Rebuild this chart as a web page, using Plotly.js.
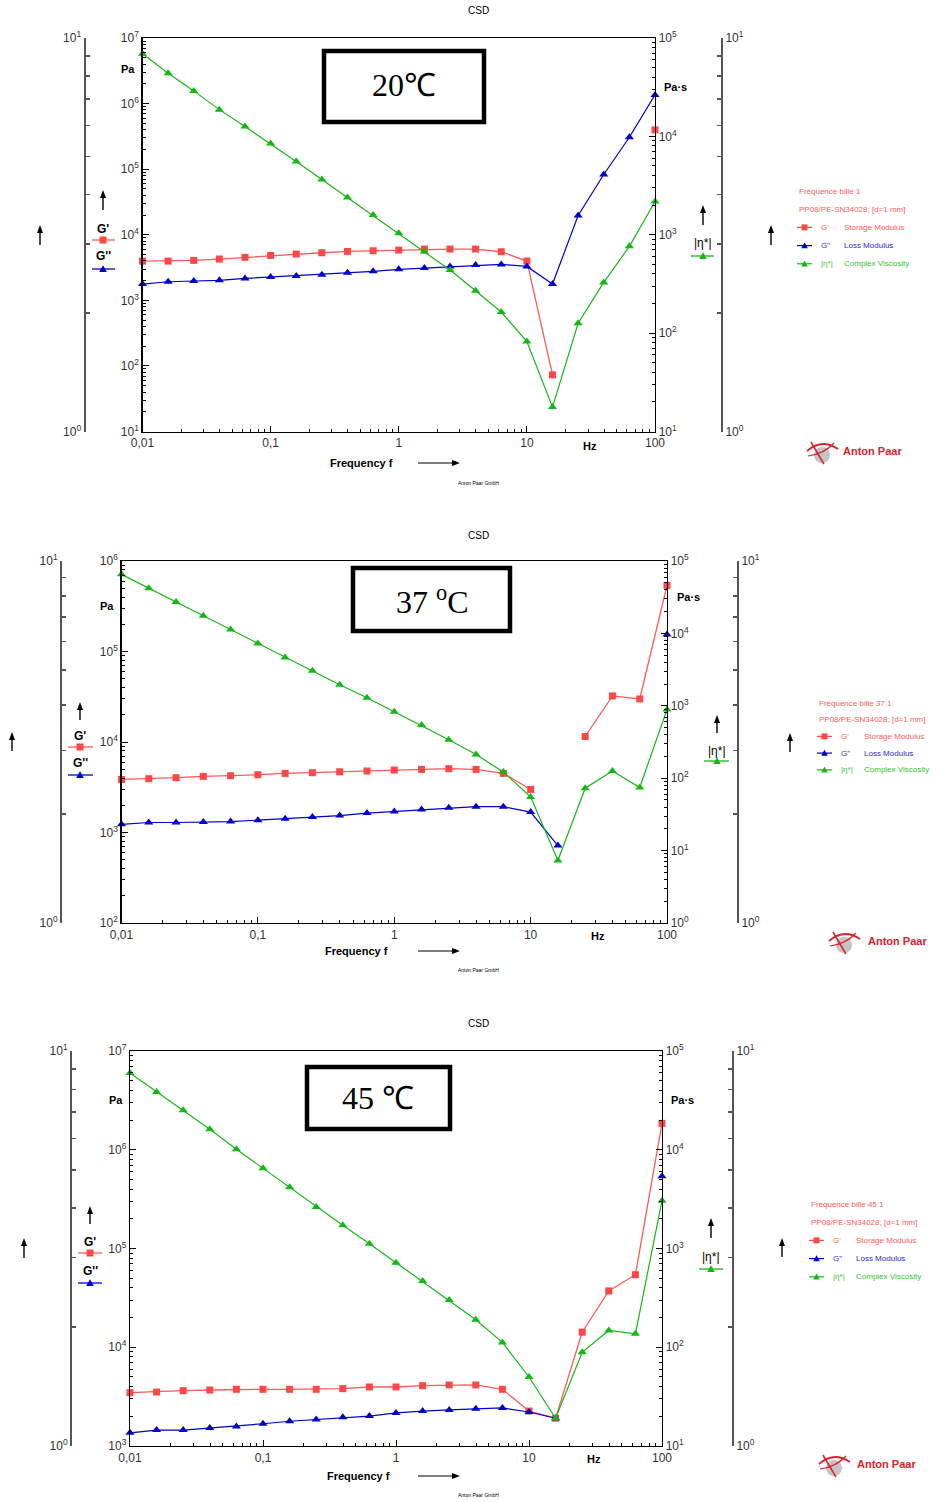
<!DOCTYPE html>
<html><head><meta charset="utf-8">
<script src="https://cdn.plot.ly/plotly-3.0.1.min.js"></script>
<style>html,body{margin:0;padding:0;background:#fff}</style>
</head><body><div id="chart" style="width:941px;height:1502px"></div>
<script>
// ---------------- DATA ----------------
const freq = [0.01, 0.01585, 0.02512, 0.03981, 0.0631, 0.1, 0.1585, 0.2512, 0.3981, 0.631, 1, 1.585, 2.512, 3.981, 6.31, 10, 15.85, 25.12, 39.81, 63.1, 100];
const xTickVals = [0.01, 0.1, 1, 10, 100];
const xTickText = ['0,01', '0,1', '1', '10', '100'];

// 20 °C
const storage20 = [3970, 3970, 4060, 4260, 4520, 4840, 5080, 5320, 5570, 5700, 5830, 6050, 6050, 6050, 5510, 3970, 73, null, null, null, 397000];
const loss20    = [1770, 1920, 1970, 2020, 2160, 2270, 2350, 2460, 2640, 2770, 2970, 3100, 3290, 3450, 3530, 3290, 1770, 19700, 83000, 307000, 1355000];
const visc20    = [69300, 43800, 29000, 18700, 12600, 8450, 5550, 3650, 2390, 1585, 1033, 671, 438, 270, 164, 82, 17.7, 126, 328, 762, 2180];
// 37 °C
const storage37 = [3860, 3930, 4030, 4170, 4240, 4350, 4500, 4580, 4690, 4780, 4900, 4980, 5070, 4980, 4500, 2990, null, 11500, 32300, 29900, 538000];
const loss37    = [1230, 1290, 1290, 1310, 1320, 1370, 1420, 1480, 1540, 1640, 1710, 1800, 1880, 1930, 1930, 1680, 718, null, null, null, 154000];
const visc37    = [65400, 41900, 27100, 17500, 11350, 7270, 4660, 3050, 1950, 1290, 826, 541, 339, 212, 122, 55.2, 7.28, 72.8, 126, 74.3, 890];
// 45 °C
const storage45 = [3470, 3520, 3630, 3690, 3750, 3750, 3750, 3750, 3810, 3960, 3960, 4080, 4150, 4150, 3750, 2260, 1910, 14200, 37200, 54300, 1850000];
const loss45    = [1360, 1450, 1450, 1520, 1580, 1680, 1780, 1860, 1950, 2010, 2160, 2260, 2320, 2390, 2430, 2210, 1910, null, null, null, 538000];
const visc45    = [59800, 38500, 25100, 16100, 10100, 6480, 4160, 2630, 1720, 1120, 719, 469, 301, 190, 112, 50, 19.1, 88.8, 148, 137, 3050];

const tempLabels = ['20℃', '37 <sup>o</sup>C', '45 ℃'];
const sampleNames = ['Fréquence bille 1', 'Fréquence bille 37 1', 'Fréquence bille 45 1'];
const sampleInfo = 'PP08/PE-SN34028; [d=1 mm]';
const seriesNames = [["G'", 'Storage Modulus'], ['G"', 'Loss Modulus'], ['|η*|', 'Complex Viscosity']];

// ---------------- STYLE / GEOMETRY ----------------
const W = 941, H = 1502;
const fx = x => x / W, fy = y => 1 - y / H;
const RED = '#ff4747', BLUE = '#0000c8', GREEN = '#14b814';
const RED_T = '#ff5a5a', BLUE_T = '#2a2acc', GREEN_T = '#33c433';
const FONT = 'Liberation Sans, Arial, sans-serif';

const panels = [
  {xL:142.5,xR:655,yT:38,yB:431.5,oL:84.5,oR:722,yl:[1,7],yr:[1,5],
   s:storage20,l:loss20,v:visc20,
   csd:10, box:[322,49,486,124], tc:[404,85],
   aOL:[40,225,245], aIn:[103,190,210], gp:[103,229,240,92,115], gpp:[103,256,269],
   pa:[128,69], pas:[675,87], aEta:[703,205,225], eta:[703,243,256,691,714], aOR:[771,225,245],
   leg:[797,191,18.2], logo:[822,452], logoT:[872,451], freq:[361,463], hz:[590,446], gmbh:483},
  {xL:121.5,xR:667,yT:561,yB:923,oL:61,oR:738,yl:[2,6],yr:[0,5],
   s:storage37,l:loss37,v:visc37,
   csd:535, box:[351,566,512,633], tc:[432,600],
   aOL:[12,732,751], aIn:[80,702,720], gp:[80,736,747,68,93], gpp:[80,763,775],
   pa:[107,606], pas:[688,597], aEta:[717,715,733], eta:[717,751,761,704,729], aOR:[790,733,752],
   leg:[817,703,16.7], logo:[844,942], logoT:[897,941], freq:[356,951], hz:[598,936], gmbh:970},
  {xL:130,xR:662,yT:1051,yB:1446,oL:71,oR:733,yl:[3,7],yr:[1,5],
   s:storage45,l:loss45,v:visc45,
   csd:1023, box:[305,1065,452,1131], tc:[378,1098],
   aOL:[24,1238,1258], aIn:[90,1206,1224], gp:[90,1242,1253,78,102], gpp:[90,1271,1283],
   pa:[116,1100], pas:[682,1100], aEta:[711,1218,1238], eta:[711,1257,1269,699,723], aOR:[782,1238,1257],
   leg:[809,1204,18.2], logo:[834,1465], logoT:[886,1464], freq:[358,1476], hz:[594,1459], gmbh:1495}
];

function decade(lo, hi){ const v=[], t=[]; for(let e=lo;e<=hi;e++){v.push(Math.pow(10,e)); t.push('10<sup>'+e+'</sup>');} return {v,t}; }
function minors(lo, hi){ const v=[]; for(let e=lo;e<hi;e++) for(let m=2;m<=9;m++) v.push(m*Math.pow(10,e)); return v; }

const data = [];
const layout = {
  width: W, height: H, margin:{l:0,r:0,t:0,b:0}, showlegend:false,
  paper_bgcolor:'#fff', plot_bgcolor:'rgba(0,0,0,0)',
  font:{family:FONT, size:12, color:'#333'},
  shapes:[], annotations:[]
};

function txt(x, y, text, o){ layout.annotations.push(Object.assign({xref:'paper',yref:'paper',x:fx(x),y:fy(y),text:text,showarrow:false,xanchor:'center',yanchor:'middle',font:{family:FONT,size:11,color:'#000'}}, o||{})); }
function seg(x0, y0, x1, y1, color, w){ layout.shapes.push({type:'line',xref:'paper',yref:'paper',x0:fx(x0),x1:fx(x1),y0:fy(y0),y1:fy(y1),line:{color:color,width:w||1.2}}); }
function poly(pts, color){
  let p = pts.map((q,i)=>(i?'L':'M')+fx(q[0])+','+fy(q[1])).join(' ')+' Z';
  layout.shapes.push({type:'path',xref:'paper',yref:'paper',path:p,fillcolor:color,line:{width:0}});
}
function upArrow(x, yHead, yTail){
  seg(x, yTail, x, yHead+6, '#000', 1.4);
  poly([[x-3,yHead+8],[x+3,yHead+8],[x,yHead]], '#000');
}
function rightArrow(xTail, xHead, y){
  seg(xTail, y, xHead-6, y, '#000', 1.2);
  poly([[xHead-8,y-3],[xHead-8,y+3],[xHead,y]], '#000');
}
function hline(x0, x1, y, color, w){ seg(x0, y, x1, y, color, w); }
function square(x, y, s, color){ layout.shapes.push({type:'rect',xref:'paper',yref:'paper',x0:fx(x-s),x1:fx(x+s),y0:fy(y+s),y1:fy(y-s),fillcolor:color,line:{width:0}}); }
function tri(x, y, s, color){ poly([[x-s,y+s*0.8],[x+s,y+s*0.8],[x,y-s]], color); }
function pathPx(pts, color, w){
  let p = ''; pts.forEach(q=>{ p += q[0] + fx(q[1]) + ',' + fy(q[2]) + ' '; });
  layout.shapes.push({type:'path',xref:'paper',yref:'paper',path:p.trim(),line:{color:color,width:w},fillcolor:'rgba(0,0,0,0)'});
}

panels.forEach((p, i) => {
  const xn = i===0 ? '' : String(i+1);
  const base = i*4;
  const yn = n => (n===1 ? '' : String(n));
  const yL = base+1, yR = base+2, yOL = base+3, yOR = base+4;
  const xref = 'x'+xn;
  const dom = [fy(p.yB), fy(p.yT)];
  const axFont = {family:FONT, size:12, color:'#333'};

  layout['xaxis'+xn] = {type:'log', range:[-2,2], domain:[fx(p.xL), fx(p.xR)], anchor:'y'+yn(yL),
    showline:true, mirror:true, linecolor:'#000', linewidth:1.3, showgrid:false, zeroline:false,
    ticks:'inside', ticklen:6, tickcolor:'#000', tickwidth:1,
    tickmode:'array', tickvals:xTickVals, ticktext:xTickText, tickfont:axFont,
    minor:{tickvals:minors(-2,2), ticks:'inside', ticklen:3, tickcolor:'#000', showgrid:false}};

  const dl = decade(p.yl[0], p.yl[1]);
  layout['yaxis'+yn(yL)] = {type:'log', range:p.yl, domain:dom, anchor:xref, side:'left',
    showline:true, linecolor:'#000', linewidth:1.3, showgrid:false, zeroline:false,
    ticks:'inside', ticklen:6, tickcolor:'#000', tickmode:'array', tickvals:dl.v, ticktext:dl.t, tickfont:axFont,
    minor:{tickvals:minors(p.yl[0],p.yl[1]), ticks:'inside', ticklen:3, tickcolor:'#000', showgrid:false}};

  const dr = decade(p.yr[0], p.yr[1]);
  layout['yaxis'+yn(yR)] = {type:'log', range:p.yr, overlaying:'y'+yn(yL), anchor:xref, side:'right',
    showline:true, linecolor:'#000', linewidth:1.3, showgrid:false, zeroline:false,
    ticks:'inside', ticklen:6, tickcolor:'#000', tickmode:'array', tickvals:dr.v, ticktext:dr.t, tickfont:axFont,
    minor:{tickvals:minors(p.yr[0],p.yr[1]), ticks:'inside', ticklen:3, tickcolor:'#000', showgrid:false}};

  const outer = decade(0,1);
  const outerCommon = {type:'log', range:[0,1], overlaying:'y'+yn(yL), anchor:'free',
    showline:true, linecolor:'#555', linewidth:2, showgrid:false, zeroline:false,
    ticks:'inside', ticklen:7, tickcolor:'#555', tickwidth:1.5, tickmode:'array', tickvals:outer.v, ticktext:outer.t, tickfont:axFont,
    minor:{tickvals:minors(0,1), ticks:'inside', ticklen:4, tickcolor:'#555', showgrid:false}};
  layout['yaxis'+yn(yOL)] = Object.assign({}, outerCommon, {side:'left', position:fx(p.oL)});
  layout['yaxis'+yn(yOR)] = Object.assign({}, outerCommon, {side:'right', position:fx(p.oR)});

  // data traces
  data.push({type:'scatter', mode:'lines+markers', x:freq, y:p.s, xaxis:xref, yaxis:'y'+yn(yL), name:"G'",
    line:{color:RED_T, width:1.3}, marker:{symbol:'square', size:7, color:RED}, connectgaps:false, cliponaxis:false});
  data.push({type:'scatter', mode:'lines+markers', x:freq, y:p.l, xaxis:xref, yaxis:'y'+yn(yL), name:'G"',
    line:{color:BLUE, width:1.2}, marker:{symbol:'triangle-up', size:8, color:BLUE}, connectgaps:false, cliponaxis:false});
  data.push({type:'scatter', mode:'lines+markers', x:freq, y:p.v, xaxis:xref, yaxis:'y'+yn(yR), name:'|η*|',
    line:{color:GREEN, width:1.2}, marker:{symbol:'triangle-up', size:8, color:GREEN}, connectgaps:false, cliponaxis:false});
  // register decorative outer axes
  data.push({type:'scatter', x:[], y:[], xaxis:xref, yaxis:'y'+yn(yOL), hoverinfo:'skip'});
  data.push({type:'scatter', x:[], y:[], xaxis:xref, yaxis:'y'+yn(yOR), hoverinfo:'skip'});

  // titles / labels
  txt(478, p.csd, 'CSD', {font:{family:FONT,size:10,color:'#000'}});
  txt(478, p.gmbh, 'Anton Paar GmbH', {font:{family:FONT,size:5,color:'#000'}});
  txt(p.freq[0], p.freq[1], '<b>Frequency f</b>', {font:{family:FONT,size:11,color:'#000'}});
  rightArrow(418, 460, p.freq[1]);
  txt(p.hz[0], p.hz[1], '<b>Hz</b>', {font:{family:FONT,size:11,color:'#000'}});
  txt(p.pa[0], p.pa[1], '<b>Pa</b>');
  txt(p.pas[0], p.pas[1], '<b>Pa·s</b>');

  // temperature box
  layout.shapes.push({type:'rect',xref:'paper',yref:'paper',x0:fx(p.box[0]+2),x1:fx(p.box[2]-2),y0:fy(p.box[3]-2),y1:fy(p.box[1]+2),line:{color:'#000',width:4.5},fillcolor:'rgba(0,0,0,0)'});
  txt(p.tc[0], p.tc[1], tempLabels[i], {font:{family:'Liberation Serif, Times New Roman, serif',size:32,color:'#000'}});

  // axis arrows and axis legends
  upArrow(p.aOL[0], p.aOL[1], p.aOL[2]);
  upArrow(p.aIn[0], p.aIn[1], p.aIn[2]);
  upArrow(p.aEta[0], p.aEta[1], p.aEta[2]);
  upArrow(p.aOR[0], p.aOR[1], p.aOR[2]);
  txt(p.gp[0], p.gp[1], "<b>G'</b>", {font:{family:FONT,size:12,color:'#000'}});
  hline(p.gp[3], p.gp[4], p.gp[2], RED_T, 1.3); square(p.gp[0], p.gp[2], 3.5, RED);
  txt(p.gpp[0], p.gpp[1], "<b>G''</b>", {font:{family:FONT,size:12,color:'#000'}});
  hline(p.gp[3], p.gp[4], p.gpp[2], BLUE, 1.3); tri(p.gpp[0], p.gpp[2], 3.8, BLUE);
  txt(p.eta[0], p.eta[1], '|η*|', {font:{family:FONT,size:12,color:'#000'}});
  hline(p.eta[3], p.eta[4], p.eta[2], GREEN, 1.3); tri(p.eta[0], p.eta[2], 3.8, GREEN);

  // right legend
  const lx = p.leg[0], ly = p.leg[1], ld = p.leg[2];
  const lf = c => ({family:FONT,size:8,color:c});
  txt(lx, ly, sampleNames[i], {xanchor:'left', font:lf(RED_T)});
  txt(lx, ly+ld, sampleInfo, {xanchor:'left', font:lf(RED_T)});
  const cols = [[RED, RED_T],[BLUE, BLUE_T],[GREEN, GREEN_T]];
  for(let k=0;k<3;k++){
    const yy = ly + ld*(2+k);
    hline(lx, lx+15, yy, cols[k][0], 1.2);
    if(k===0) square(lx+7.5, yy, 3, cols[k][0]); else tri(lx+7.5, yy, 3.3, cols[k][0]);
    txt(lx+22, yy, seriesNames[k][0], {xanchor:'left', font:lf(cols[k][1])});
    txt(lx+45, yy, seriesNames[k][1], {xanchor:'left', font:lf(cols[k][1])});
  }

  // Anton Paar logo
  const gx = p.logo[0], gy = p.logo[1];
  layout.shapes.push({type:'circle',xref:'paper',yref:'paper',x0:fx(gx-8),x1:fx(gx+8),y0:fy(gy+11),y1:fy(gy-5),fillcolor:'#c4c4c4',line:{width:0}});
  pathPx([['M',gx-15,gy-1],['Q',gx,gy-14],['',gx+16,gy-3]], '#d9232d', 1.8);
  pathPx([['M',gx-11,gy-10],['Q',gx-4,gy+2],['',gx+2,gy+12]], '#d9232d', 1.5);
  pathPx([['M',gx-14,gy+4],['Q',gx+2,gy+2],['',gx+12,gy-9]], '#d9232d', 1.2);
  txt(p.logoT[0], p.logoT[1], '<b>Anton Paar</b>', {font:{family:FONT,size:11,color:'#d9232d'}});
});

Plotly.newPlot('chart', data, layout, {staticPlot:true, displayModeBar:false});
</script>
</body></html>
